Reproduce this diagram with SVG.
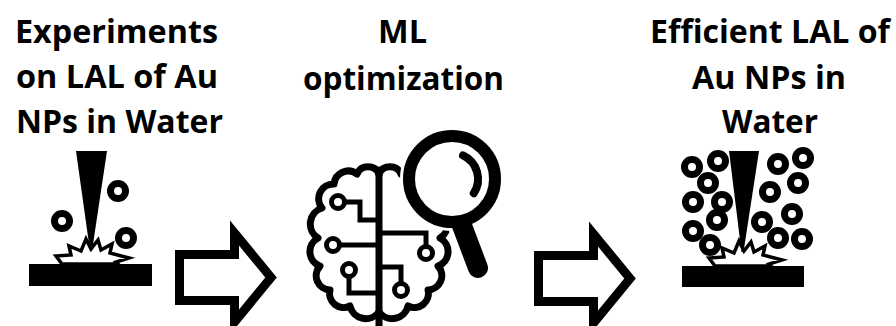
<svg xmlns="http://www.w3.org/2000/svg" width="896" height="326" viewBox="0 0 896 326">
  <style>
    .label { font-family: "Open Sans", "Noto Sans", "Liberation Sans", sans-serif; font-weight: 700; font-size: 33px; fill: #000; }
    .np { fill: #fff; stroke: #000; stroke-width: 7; }
    .ink { fill: #000; }
    .spark { fill: #fff; stroke: #000; stroke-width: 3.5; stroke-linejoin: miter; }
    .flow { fill: #fff; stroke: #000; stroke-width: 9; stroke-linejoin: miter; stroke-miterlimit: 10; }
    .brain { fill: none; stroke: #000; stroke-width: 7; stroke-linejoin: round; stroke-linecap: round; }
    .trace { fill: none; stroke: #000; stroke-width: 5; }
    .pad { fill: #fff; stroke: #000; stroke-width: 5; }
    .halo { fill: #fff; stroke: #fff; }
  </style>
  <defs>
    <!-- ablation flash where the beam hits the target -->
    <path id="spark" class="spark" d="M62,264 L56,256 L71,255 L69,246 L81,251 L86,239 L91,249 L98,240 L101,250 L112,244 L110,253 L129,258 L116,262 L118,264 Z"/>
    <!-- one hemisphere outline of the brain -->
    <path id="hemisphere" class="brain" d="M379,174 A12,12 0 0 0 357,174 A14.3,14.3 0 0 0 334,184 A14.7,14.7 0 0 0 322,208 A16.7,16.7 0 0 0 318,238 A15.4,15.4 0 0 0 320,266 A14.3,14.3 0 0 0 330,290 A14.1,14.1 0 0 0 350,306 A16.3,16.3 0 0 0 379,312"/>
  </defs>

  <rect width="896" height="326" fill="#fff"/>

  <!-- step 1: laser ablation experiments -->
  <g id="node-experiments">
    <text class="label" x="15" y="43" textLength="203" lengthAdjust="spacingAndGlyphs">Experiments</text>
    <text class="label" x="16" y="88" textLength="202" lengthAdjust="spacingAndGlyphs">on LAL of Au</text>
    <text class="label" x="16" y="133" textLength="207" lengthAdjust="spacingAndGlyphs">NPs in Water</text>
    <rect class="ink" x="29" y="264" width="123" height="22"/>
    <use href="#spark"/>
    <path class="ink" d="M76,151 H107 L92,251 H90 Z"/>
    <circle class="np" cx="118" cy="191" r="7.5"/>
    <circle class="np" cx="62" cy="221" r="7.5"/>
    <circle class="np" cx="126" cy="238" r="7.5"/>
  </g>

  <!-- step 2: machine-learning optimisation -->
  <g id="node-ml">
    <text class="label" x="378" y="43" textLength="49" lengthAdjust="spacingAndGlyphs">ML</text>
    <text class="label" x="303" y="90" textLength="201" lengthAdjust="spacingAndGlyphs">optimization</text>
    <use href="#hemisphere"/>
    <use href="#hemisphere" transform="translate(758,0) scale(-1,1)"/>
    <path class="brain" d="M379,170 V326" stroke-linecap="butt"/>
    <!-- circuit traces -->
    <path class="trace" d="M344,202 H360 V220 H379"/>
    <path class="trace" d="M339,245 H379"/>
    <path class="trace" d="M349,276 V293 H379"/>
    <path class="trace" d="M379,233 H426 V247"/>
    <path class="trace" d="M379,267 H401 V284"/>
    <circle class="pad" cx="338" cy="202" r="6.5"/>
    <circle class="pad" cx="333" cy="245" r="6.5"/>
    <circle class="pad" cx="349" cy="270" r="6.5"/>
    <circle class="pad" cx="426" cy="253" r="6.5"/>
    <circle class="pad" cx="401" cy="290" r="6.5"/>
    <!-- magnifying glass -->
    <line x1="458" y1="215" x2="478" y2="268" stroke="#fff" stroke-width="28" stroke-linecap="round"/>
    <circle class="halo" cx="452" cy="179" r="43" stroke-width="18"/>
    <line x1="458" y1="215" x2="478" y2="268" stroke="#000" stroke-width="20" stroke-linecap="round"/>
    <circle cx="452" cy="179" r="43" fill="#fff" stroke="#000" stroke-width="12"/>
    <path d="M463,155.4 A26,26 0 0 1 473.8,193.2" fill="none" stroke="#000" stroke-width="8" stroke-linecap="round"/>
  </g>

  <!-- step 3: efficient ablation -->
  <g id="node-efficient">
    <text class="label" x="650" y="43" textLength="240" lengthAdjust="spacingAndGlyphs">Efficient LAL of</text>
    <text class="label" x="692" y="89" textLength="154" lengthAdjust="spacingAndGlyphs">Au NPs in</text>
    <text class="label" x="722" y="133" textLength="96" lengthAdjust="spacingAndGlyphs">Water</text>
    <rect class="ink" x="682" y="266" width="122" height="21"/>
    <use href="#spark" transform="translate(653,2)"/>
    <path class="ink" d="M729,151 H759 L743.5,252 H741.5 Z"/>
    <g>
      <circle class="np" cx="692" cy="167" r="7.5"/>
      <circle class="np" cx="718" cy="161" r="7.5"/>
      <circle class="np" cx="708" cy="183" r="7.5"/>
      <circle class="np" cx="693" cy="202" r="7.5"/>
      <circle class="np" cx="722" cy="202" r="7.5"/>
      <circle class="np" cx="717" cy="220" r="7.5"/>
      <circle class="np" cx="693" cy="231" r="7.5"/>
      <circle class="np" cx="710" cy="245" r="7.5"/>
      <circle class="np" cx="778" cy="164" r="7.5"/>
      <circle class="np" cx="803" cy="158" r="7.5"/>
      <circle class="np" cx="798" cy="183" r="7.5"/>
      <circle class="np" cx="770" cy="192" r="7.5"/>
      <circle class="np" cx="792" cy="214" r="7.5"/>
      <circle class="np" cx="762" cy="222" r="7.5"/>
      <circle class="np" cx="778" cy="238" r="7.5"/>
      <circle class="np" cx="802" cy="239" r="7.5"/>
    </g>
  </g>

  <!-- block arrows between the steps -->
  <g id="connectors">
    <path class="flow" d="M179.5,254.5 H234.5 V233 L271,277.5 L234.5,322 V300.5 H179.5 Z"/>
    <path class="flow" d="M179.5,254.5 H234.5 V233 L271,277.5 L234.5,322 V300.5 H179.5 Z" transform="translate(359,1)"/>
  </g>
</svg>
